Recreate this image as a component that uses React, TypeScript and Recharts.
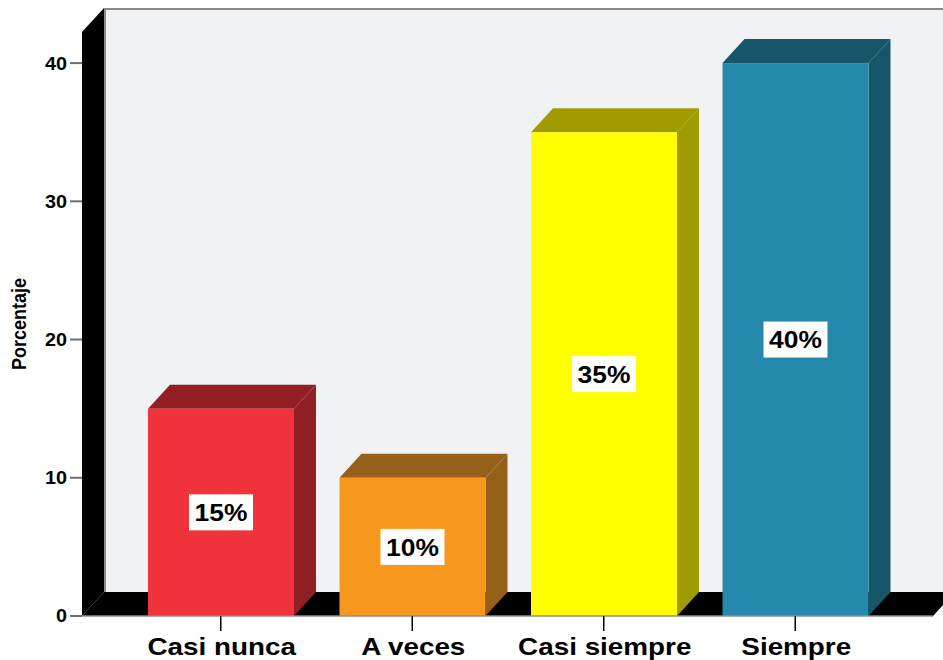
import React from 'react';
import { BarChart, Bar, XAxis, YAxis, LabelList } from 'recharts';

// ---- data ----
const categories = ['Casi nunca', 'A veces', 'Casi siempre', 'Siempre'];
const percentages = [15, 10, 35, 40];
const yTicks = [0, 10, 20, 30, 40];
const yLabel = 'Porcentaje';

// ---- palette ----
const frontColors = ['#f0333a', '#f7971e', '#ffff00', '#2489ac'];
const sideColors = ['#921f23', '#97601a', '#a09c00', '#175569'];

const data = categories.map((c, i) => ({ category: c, value: percentages[i] }));

// ---- layout ----
const W = 943;
const H = 660;
const MARGIN = { top: 32, right: 10, bottom: 0, left: 0 };
const Y_AXIS_W = 82;
const X_AXIS_H = 44;
const DX = 22;
const DY = 24;
const FONT = '"Liberation Sans", Arial, Helvetica, sans-serif';

const PLOT_L = MARGIN.left + Y_AXIS_W;
const PLOT_T = MARGIN.top;
const PLOT_R = W - MARGIN.right;
const PLOT_B = H - MARGIN.bottom - X_AXIS_H;

const Walls = () => (
  <g>
    <rect x={PLOT_L + DX} y={PLOT_T - DY} width={PLOT_R - PLOT_L + 40} height={PLOT_B - PLOT_T} fill="#f1f2f4" />
    <line x1={PLOT_L + DX} y1={PLOT_T - DY + 1} x2={W + 30} y2={PLOT_T - DY + 1} stroke="#8c8c8c" strokeWidth={2} />
    <line x1={PLOT_L + DX + 1} y1={PLOT_T - DY} x2={PLOT_L + DX + 1} y2={PLOT_B - DY} stroke="#8c8c8c" strokeWidth={2} />
    <polygon
      points={`${PLOT_L},${PLOT_T} ${PLOT_L + DX},${PLOT_T - DY} ${PLOT_L + DX},${PLOT_B - DY} ${PLOT_L},${PLOT_B}`}
      fill="#000"
    />
    <polygon
      points={`${PLOT_L},${PLOT_B} ${PLOT_L + DX},${PLOT_B - DY} ${PLOT_R + DX},${PLOT_B - DY} ${PLOT_R},${PLOT_B}`}
      fill="#000"
    />
  </g>
);

const Bar3D = (props: any) => {
  const { x, y, width, height, index } = props;
  const i = typeof index === 'number' ? index : categories.indexOf(props.payload?.category);
  const front = frontColors[i];
  const side = sideColors[i];
  const b = y + height;
  return (
    <g>
      <polygon points={`${x},${y} ${x + DX},${y - DY} ${x + width + DX},${y - DY} ${x + width},${y}`} fill={side} />
      <polygon points={`${x + width},${y} ${x + width + DX},${y - DY} ${x + width + DX},${b - DY} ${x + width},${b}`} fill={side} />
      <rect x={x} y={y} width={width} height={height} fill={front} />
    </g>
  );
};

const ValueBox = (props: any) => {
  const { x, y, width, height, value } = props;
  const cx = x + width / 2;
  const cy = y + height / 2;
  return (
    <g>
      <rect x={cx - 32} y={cy - 18} width={64} height={36} fill="#ffffff" />
      <text transform={`translate(${cx} ${cy}) scale(1.1 1)`} dy="0.36em" textAnchor="middle" fontFamily={FONT} fontWeight={700} fontSize={24} fill="#000">
        {`${value}%`}
      </text>
    </g>
  );
};

const YTick = (props: any) => {
  const { x, y, payload } = props;
  return (
    <text transform={`translate(${x} ${y}) scale(1.1 1)`} dy="0.36em" textAnchor="end" fontFamily={FONT} fontWeight={700} fontSize={18} fill="#000">
      {payload.value}
    </text>
  );
};

const XTick = (props: any) => {
  const { x, y, payload } = props;
  return (
    <text transform={`translate(${x + 1} ${y}) scale(1.16 1)`} dy="0.71em" textAnchor="middle" fontFamily={FONT} fontWeight={700} fontSize={24} fill="#000">
      {payload.value}
    </text>
  );
};

const YLabel = (props: any) => {
  const vb = props.viewBox || { x: 0, y: PLOT_T, width: Y_AXIS_W, height: PLOT_B - PLOT_T };
  const cx = 26;
  const cy = vb.y + vb.height / 2;
  return (
    <text transform={`translate(${cx} ${cy}) scale(1.1 1) rotate(-90)`} textAnchor="middle" fontFamily={FONT} fontWeight={700} fontSize={18} fill="#000">
      {yLabel}
    </text>
  );
};

export default function App() {
  return (
    <div style={{ position: 'absolute', left: 0, top: 0, width: W, height: H, background: '#fff' }}>
      <BarChart width={W} height={H} data={data} margin={MARGIN} barSize={146}>
        <Walls />
        <XAxis
          dataKey="category"
          height={X_AXIS_H}
          padding={{ left: 43, right: 42 }}
          tickSize={15}
          tickMargin={7}
          axisLine={{ stroke: '#8c8c8c', strokeWidth: 1.5 }}
          tickLine={{ stroke: '#000', strokeWidth: 1.5 }}
          tick={<XTick />}
          interval={0}
        />
        <YAxis
          width={Y_AXIS_W}
          domain={[0, 42.25]}
          ticks={yTicks}
          allowDataOverflow
          tickSize={12}
          tickMargin={3}
          axisLine={false}
          tickLine={{ stroke: '#6e6e6e', strokeWidth: 2 }}
          tick={<YTick />}
          label={<YLabel />}
        />
        <Bar dataKey="value" isAnimationActive={false} shape={<Bar3D />}>
          <LabelList dataKey="value" content={<ValueBox />} />
        </Bar>
      </BarChart>
    </div>
  );
}
